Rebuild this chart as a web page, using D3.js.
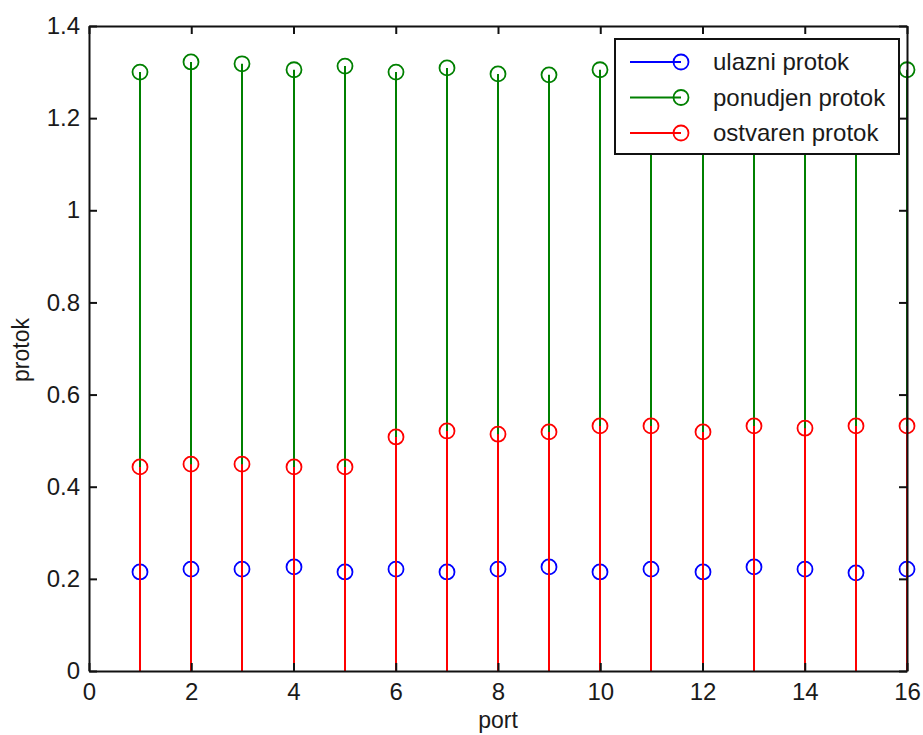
<!DOCTYPE html>
<html>
<head>
<meta charset="utf-8">
<script src="https://cdn.jsdelivr.net/npm/d3@7"></script>
<style>
  body { margin: 0; background: #fff; }
  text { font-family: "Liberation Sans", Arial, sans-serif; }
</style>
</head>
<body>
<div id="chart"></div>
<script>
// port numbers and the three measured flows
var ports = [1, 2, 3, 4, 5, 6, 7, 8, 9, 10, 11, 12, 13, 14, 15, 16];
var ulazni = [0.215, 0.221, 0.221, 0.226, 0.215, 0.221, 0.215, 0.221, 0.226, 0.215, 0.221, 0.215, 0.226, 0.221, 0.213, 0.221];
var ponudjen = [1.300, 1.322, 1.318, 1.305, 1.313, 1.300, 1.309, 1.296, 1.294, 1.305, 1.300, 1.305, 1.298, 1.302, 1.300, 1.305];
var ostvaren = [0.443, 0.449, 0.449, 0.443, 0.443, 0.508, 0.521, 0.514, 0.519, 0.532, 0.532, 0.519, 0.532, 0.527, 0.532, 0.532];
var seriesNames = ['ulazni protok', 'ponudjen protok', 'ostvaren protok'];
var seriesColors = ['#0000ff', '#008000', '#ff0000'];
var xTicks = [0, 2, 4, 6, 8, 10, 12, 14, 16];
var yTicks = [0, 0.2, 0.4, 0.6, 0.8, 1, 1.2, 1.4];

var width = 923, height = 735;
var margin = {top: 26, right: 16, bottom: 64, left: 89};
var w = width - margin.left - margin.right;
var h = height - margin.top - margin.bottom;

var x = d3.scaleLinear().domain([0, 16]).range([0, w]);
var y = d3.scaleLinear().domain([0, 1.4]).range([h, 0]);
var px = function (v) { return Math.round(x(v)); };

var svg = d3.select('#chart').append('svg')
    .attr('width', width)
    .attr('height', height);

var g = svg.append('g')
    .attr('transform', 'translate(' + margin.left + ',' + margin.top + ')');

var series = [ulazni, ponudjen, ostvaren];

// stems, one series after another like matlab draws them
series.forEach(function (vals, si) {
  var layer = g.append('g');
  layer.selectAll('line')
      .data(vals)
      .enter().append('line')
        .attr('x1', function (d, i) { return px(ports[i]); })
        .attr('x2', function (d, i) { return px(ports[i]); })
        .attr('y1', y(0))
        .attr('y2', function (d) { return y(d); })
        .attr('stroke', seriesColors[si])
        .attr('stroke-width', 2);
  layer.selectAll('circle')
      .data(vals)
      .enter().append('circle')
        .attr('cx', function (d, i) { return px(ports[i]); })
        .attr('cy', function (d) { return y(d); })
        .attr('r', 7.5)
        .attr('fill', 'none')
        .attr('stroke', seriesColors[si])
        .attr('stroke-width', 1.8);
});

// axes, ticks inward on all four sides
var tickLen = 8;
var axisBottom = d3.axisBottom(x).tickValues(xTicks).tickSizeInner(-tickLen).tickSizeOuter(0).tickPadding(12);
var axisTop = d3.axisTop(x).tickValues(xTicks).tickSizeInner(-tickLen).tickSizeOuter(0).tickFormat('');
var axisLeft = d3.axisLeft(y).tickValues(yTicks).tickSizeInner(-tickLen).tickSizeOuter(0).tickPadding(9)
    .tickFormat(function (d) { return d3.format('~g')(d); });
var axisRight = d3.axisRight(y).tickValues(yTicks).tickSizeInner(-tickLen).tickSizeOuter(0).tickFormat('');

g.append('g').attr('class', 'axis').attr('transform', 'translate(0,' + h + ')').call(axisBottom);
g.append('g').attr('class', 'axis').call(axisTop);
g.append('g').attr('class', 'axis').call(axisLeft);
g.append('g').attr('class', 'axis').attr('transform', 'translate(' + w + ',0)').call(axisRight);

g.selectAll('.axis path').attr('stroke', '#111').attr('stroke-width', 2);
g.selectAll('.axis line').attr('stroke', '#111').attr('stroke-width', 2);
g.selectAll('.axis text').attr('font-size', 24).attr('fill', '#1a1a1a')
    .style('font-family', '"Liberation Sans", Arial, sans-serif');

// axis labels
svg.append('text')
    .attr('x', 498)
    .attr('y', 728)
    .attr('text-anchor', 'middle')
    .attr('font-size', 23)
    .attr('fill', '#1a1a1a')
    .text('port');

svg.append('text')
    .attr('transform', 'translate(29,350) rotate(-90)')
    .attr('text-anchor', 'middle')
    .attr('font-size', 23)
    .attr('fill', '#1a1a1a')
    .text('protok');

// legend
var legend = svg.append('g').attr('transform', 'translate(615,39)');
legend.append('rect')
    .attr('width', 284)
    .attr('height', 115)
    .attr('fill', '#fff')
    .attr('stroke', '#111')
    .attr('stroke-width', 2);

seriesNames.forEach(function (name, i) {
  var ly = 23 + i * 35.5;
  var row = legend.append('g').attr('transform', 'translate(0,' + ly + ')');
  row.append('line')
      .attr('x1', 15).attr('x2', 66)
      .attr('y1', 0).attr('y2', 0)
      .attr('stroke', seriesColors[i])
      .attr('stroke-width', 2);
  row.append('circle')
      .attr('cx', 66).attr('cy', 0).attr('r', 7.5)
      .attr('fill', 'none')
      .attr('stroke', seriesColors[i])
      .attr('stroke-width', 1.8);
  row.append('text')
      .attr('x', 98).attr('y', 8)
      .attr('font-size', 24)
      .attr('fill', '#1a1a1a')
      .text(name);
});
</script>
</body>
</html>
